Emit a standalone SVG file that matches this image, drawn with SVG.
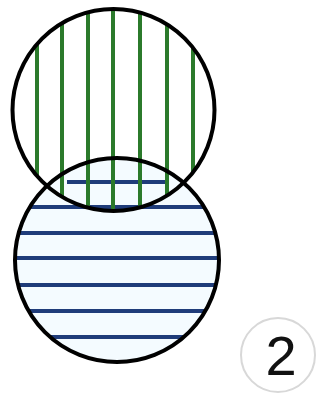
<svg xmlns="http://www.w3.org/2000/svg" width="323" height="395" viewBox="0 0 323 395">
<style>
.g{stroke:#2b7a2b;stroke-width:4}
.b{stroke:#1f3c7a;stroke-width:4}
.c{fill:none;stroke:#000;stroke-width:4}
</style>
<defs>
<clipPath id="ct"><circle cx="113.5" cy="110" r="101"/></clipPath>
<clipPath id="cb"><circle cx="117" cy="260" r="102"/></clipPath>
</defs>
<rect width="323" height="395" fill="#fff"/>
<g id="bottom-circle">
<circle cx="117" cy="260" r="102" fill="#f4fbff"/>
<g clip-path="url(#cb)">
<line class="b" x1="67" y1="182" x2="167" y2="182"/>
<line class="b" x1="0" y1="207" x2="240" y2="207"/>
<line class="b" x1="0" y1="233" x2="240" y2="233"/>
<line class="b" x1="0" y1="258" x2="240" y2="258"/>
<line class="b" x1="0" y1="285" x2="240" y2="285"/>
<line class="b" x1="0" y1="311" x2="240" y2="311"/>
<line class="b" x1="0" y1="337" x2="240" y2="337"/>
</g>
</g>
<g id="top-circle">
<g clip-path="url(#ct)">
<line class="g" x1="37" y1="0" x2="37" y2="220"/>
<line class="g" x1="62" y1="0" x2="62" y2="220"/>
<line class="g" x1="88" y1="0" x2="88" y2="220"/>
<line class="g" x1="113" y1="0" x2="113" y2="220"/>
<line class="g" x1="140" y1="0" x2="140" y2="220"/>
<line class="g" x1="167" y1="0" x2="167" y2="220"/>
<line class="g" x1="193" y1="0" x2="193" y2="220"/>
</g>
<circle class="c" cx="113.5" cy="110" r="101"/>
</g>
<circle class="c" cx="117" cy="260" r="102"/>
<g id="label">
<circle cx="278" cy="355" r="37" fill="none" stroke="#d8d8d8" stroke-width="2"/>
<text x="281" y="375" font-family="Liberation Sans, Arial, sans-serif" font-size="56" text-anchor="middle" fill="#111">2</text>
</g>
</svg>
